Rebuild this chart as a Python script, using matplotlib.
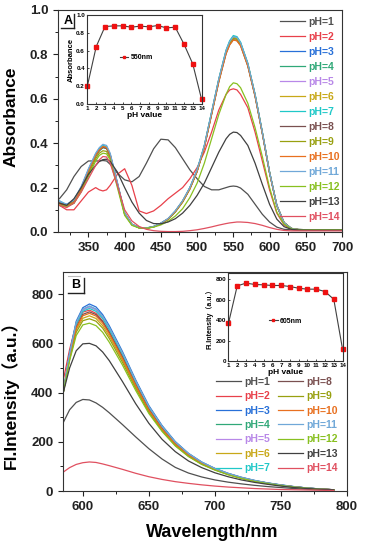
import matplotlib
matplotlib.use('Agg')
import matplotlib.pyplot as plt
from matplotlib.ticker import MultipleLocator
from matplotlib.lines import Line2D

plt.rcParams['font.family'] = ['Liberation Sans', 'Noto Sans CJK SC', 'DejaVu Sans']
plt.rcParams['font.weight'] = 'bold'
plt.rcParams['axes.labelweight'] = 'bold'
plt.rcParams['axes.linewidth'] = 0.8
plt.rcParams['axes.edgecolor'] = '#333333'

# ---------------- data ----------------
labels = ['pH=%d' % i for i in range(1, 15)]
colors = ['#505050', '#e8404a', '#2870d8', '#30a878', '#b888e8', '#c8a818', '#20c8c8',
          '#7a5050', '#98a010', '#e87020', '#70a8d8', '#88c020', '#404040', '#e05060']

wl_abs = [310, 320, 330, 340, 350, 360, 365, 370, 375, 380, 390, 400, 410, 420, 430, 440, 450,
          460, 470, 480, 490, 500, 510, 520, 530, 540, 545, 550, 555, 560, 570, 580, 590, 600,
          610, 620, 630, 640, 660, 680, 700]

abs_ph1 = [0.15, 0.19, 0.25, 0.295, 0.32, 0.32, 0.32, 0.322, 0.32, 0.305, 0.265, 0.235, 0.226, 0.25,
           0.31, 0.375, 0.418, 0.415, 0.38, 0.33, 0.28, 0.24, 0.205, 0.19, 0.19, 0.2, 0.205, 0.207,
           0.205, 0.198, 0.17, 0.125, 0.08, 0.045, 0.022, 0.012, 0.01, 0.008, 0.008, 0.008, 0.008]
abs_ph2 = [0.12, 0.1, 0.1, 0.14, 0.18, 0.2, 0.19, 0.185, 0.19, 0.21, 0.26, 0.285, 0.21, 0.095,
           0.083, 0.095, 0.12, 0.15, 0.175, 0.2, 0.24, 0.29, 0.36, 0.45, 0.55, 0.62, 0.64, 0.645,
           0.64, 0.62, 0.56, 0.45, 0.32, 0.19, 0.085, 0.032, 0.012, 0.008, 0.008, 0.008, 0.008]
abs_ph3 = [0.13, 0.125, 0.14, 0.2, 0.28, 0.35, 0.375, 0.388, 0.383, 0.348, 0.218, 0.084, 0.034, 0.02,
           0.018, 0.024, 0.038, 0.058, 0.092, 0.137, 0.196, 0.275, 0.385, 0.535, 0.685, 0.812, 0.852,
           0.875, 0.872, 0.848, 0.755, 0.617, 0.448, 0.268, 0.12, 0.042, 0.016, 0.011, 0.01, 0.01, 0.01]
abs_ph4 = [0.12, 0.115, 0.13, 0.19, 0.27, 0.34, 0.365, 0.38, 0.376, 0.343, 0.214, 0.082, 0.033, 0.019,
           0.017, 0.023, 0.038, 0.058, 0.093, 0.138, 0.198, 0.278, 0.388, 0.538, 0.688, 0.816, 0.857,
           0.88, 0.877, 0.852, 0.758, 0.62, 0.45, 0.27, 0.12, 0.042, 0.016, 0.011, 0.01, 0.01, 0.01]
abs_ph5 = [0.135, 0.12, 0.14, 0.2, 0.28, 0.35, 0.374, 0.388, 0.384, 0.35, 0.22, 0.085, 0.035, 0.02,
           0.018, 0.024, 0.039, 0.059, 0.094, 0.139, 0.198, 0.277, 0.386, 0.535, 0.684, 0.81, 0.85,
           0.872, 0.868, 0.845, 0.752, 0.614, 0.446, 0.268, 0.12, 0.042, 0.016, 0.011, 0.01, 0.01, 0.01]
abs_ph6 = [0.125, 0.12, 0.135, 0.195, 0.275, 0.345, 0.37, 0.384, 0.38, 0.346, 0.217, 0.083, 0.034, 0.019,
           0.017, 0.024, 0.039, 0.059, 0.094, 0.139, 0.198, 0.277, 0.387, 0.536, 0.686, 0.812, 0.853,
           0.875, 0.871, 0.848, 0.756, 0.617, 0.448, 0.269, 0.12, 0.042, 0.016, 0.011, 0.01, 0.01, 0.01]
abs_ph7 = [0.14, 0.12, 0.14, 0.2, 0.28, 0.35, 0.375, 0.39, 0.385, 0.35, 0.22, 0.085, 0.035, 0.02,
           0.018, 0.025, 0.04, 0.06, 0.095, 0.14, 0.2, 0.28, 0.39, 0.54, 0.69, 0.82, 0.862,
           0.885, 0.88, 0.855, 0.76, 0.62, 0.45, 0.27, 0.12, 0.042, 0.016, 0.011, 0.01, 0.01, 0.01]
abs_ph8 = [0.13, 0.12, 0.135, 0.195, 0.275, 0.345, 0.368, 0.381, 0.377, 0.344, 0.216, 0.083, 0.034, 0.019,
           0.017, 0.024, 0.039, 0.059, 0.093, 0.137, 0.195, 0.273, 0.382, 0.53, 0.678, 0.804, 0.844,
           0.866, 0.862, 0.84, 0.748, 0.612, 0.445, 0.267, 0.119, 0.042, 0.016, 0.011, 0.01, 0.01, 0.01]
abs_ph9 = [0.12, 0.115, 0.13, 0.185, 0.26, 0.33, 0.355, 0.366, 0.363, 0.333, 0.21, 0.08, 0.032, 0.019,
           0.017, 0.023, 0.037, 0.056, 0.09, 0.134, 0.193, 0.272, 0.382, 0.532, 0.682, 0.81, 0.85,
           0.872, 0.868, 0.845, 0.752, 0.615, 0.447, 0.268, 0.12, 0.042, 0.016, 0.011, 0.01, 0.01, 0.01]
abs_ph10 = [0.13, 0.12, 0.135, 0.195, 0.275, 0.345, 0.37, 0.385, 0.381, 0.347, 0.218, 0.084, 0.034, 0.019,
            0.017, 0.024, 0.039, 0.059, 0.093, 0.137, 0.195, 0.273, 0.381, 0.529, 0.677, 0.803, 0.843,
            0.865, 0.861, 0.839, 0.747, 0.611, 0.444, 0.266, 0.119, 0.042, 0.016, 0.011, 0.01, 0.01, 0.01]
abs_ph11 = [0.14, 0.125, 0.145, 0.205, 0.285, 0.355, 0.38, 0.395, 0.39, 0.355, 0.223, 0.086, 0.035, 0.02,
            0.018, 0.025, 0.04, 0.061, 0.096, 0.141, 0.2, 0.28, 0.39, 0.54, 0.69, 0.817, 0.858,
            0.88, 0.876, 0.852, 0.759, 0.62, 0.45, 0.27, 0.121, 0.042, 0.016, 0.011, 0.01, 0.01, 0.01]
abs_ph12 = [0.12, 0.115, 0.13, 0.18, 0.25, 0.32, 0.345, 0.355, 0.352, 0.325, 0.2, 0.075, 0.03, 0.018,
            0.017, 0.022, 0.032, 0.048, 0.072, 0.105, 0.155, 0.22, 0.31, 0.42, 0.53, 0.62, 0.655,
            0.672, 0.668, 0.65, 0.58, 0.47, 0.34, 0.2, 0.09, 0.035, 0.014, 0.01, 0.01, 0.01, 0.01]
abs_ph13 = [0.13, 0.12, 0.15, 0.2, 0.26, 0.3, 0.318, 0.326, 0.328, 0.318, 0.27, 0.2, 0.135, 0.085,
            0.052, 0.038, 0.037, 0.045, 0.06, 0.085, 0.12, 0.165, 0.22, 0.29, 0.36, 0.42, 0.44,
            0.45, 0.448, 0.435, 0.39, 0.31, 0.215, 0.125, 0.058, 0.024, 0.012, 0.009, 0.008, 0.008, 0.008]
abs_ph14 = [0.12, 0.11, 0.13, 0.18, 0.24, 0.3, 0.325, 0.34, 0.338, 0.31, 0.21, 0.1, 0.05, 0.025,
            0.012, 0.006, 0.003, 0.002, 0.002, 0.003, 0.006, 0.01, 0.016, 0.023, 0.031, 0.038, 0.041,
            0.043, 0.045, 0.045, 0.043, 0.038, 0.03, 0.02, 0.012, 0.007, 0.005, 0.005, 0.005, 0.005, 0.005]

wl_fl = [585, 590, 595, 600, 605, 610, 615, 620, 630, 640, 650, 660, 670, 680, 690, 700,
         710, 720, 730, 740, 750, 760, 770, 780, 790]
fl_ph1 = [276, 330, 360, 372, 370, 358, 340, 318, 270, 220, 172, 130, 96, 73, 57, 45, 36, 29, 23, 18, 14, 10, 7, 5, 3]
fl_ph2 = [445, 575, 680, 727, 735, 722, 692, 648, 547, 436, 335, 257, 194, 148, 114, 89, 70, 54, 42, 32, 24, 17, 12, 8, 5]
fl_ph3 = [395, 560, 690, 745, 760, 748, 717, 672, 567, 452, 347, 266, 201, 153, 118, 92, 72, 56, 43, 33, 25, 18, 12, 8, 5]
fl_ph4 = [395, 555, 682, 737, 750, 738, 708, 663, 560, 446, 342, 262, 198, 151, 116, 91, 71, 55, 42, 32, 24, 17, 12, 8, 5]
fl_ph5 = [395, 554, 680, 735, 748, 736, 706, 661, 558, 445, 341, 261, 197, 151, 116, 91, 71, 55, 42, 32, 24, 17, 12, 8, 5]
fl_ph6 = [395, 540, 655, 702, 712, 701, 672, 630, 532, 424, 325, 249, 188, 144, 111, 87, 68, 53, 40, 31, 23, 17, 11, 8, 5]
fl_ph7 = [395, 552, 676, 730, 742, 730, 701, 656, 554, 441, 338, 259, 196, 150, 115, 90, 70, 54, 42, 32, 24, 17, 12, 8, 5]
fl_ph8 = [395, 547, 666, 718, 728, 717, 688, 644, 544, 433, 332, 254, 192, 147, 113, 88, 69, 53, 41, 31, 23, 17, 12, 8, 5]
fl_ph9 = [395, 535, 645, 692, 700, 690, 662, 620, 523, 417, 320, 245, 185, 141, 109, 86, 67, 52, 40, 30, 23, 16, 11, 7, 5]
fl_ph10 = [395, 545, 662, 712, 722, 711, 682, 639, 539, 430, 329, 252, 191, 146, 112, 88, 68, 53, 41, 31, 23, 17, 11, 8, 5]
fl_ph11 = [395, 556, 684, 739, 752, 740, 710, 665, 561, 447, 343, 263, 199, 152, 117, 91, 71, 55, 43, 32, 24, 17, 12, 8, 5]
fl_ph12 = [395, 530, 632, 675, 682, 672, 645, 605, 512, 409, 315, 242, 183, 140, 108, 85, 66, 51, 39, 30, 22, 16, 11, 7, 5]
fl_ph13 = [395, 500, 570, 598, 600, 590, 565, 530, 445, 355, 275, 210, 160, 122, 95, 74, 58, 45, 35, 27, 20, 14, 10, 7, 5]
fl_ph14 = [76, 95, 108, 115, 118, 116, 110, 103, 88, 72, 58, 47, 38, 31, 25, 20, 16, 13, 10, 8, 6, 5, 4, 3, 2]

ph_values = [1, 2, 3, 4, 5, 6, 7, 8, 9, 10, 11, 12, 13, 14]
abs_550 = [0.206, 0.645, 0.87, 0.878, 0.878, 0.863, 0.875, 0.867, 0.882, 0.855, 0.863, 0.672, 0.45, 0.053]
fl_605 = [367, 734, 761, 748, 744, 738, 738, 728, 711, 702, 702, 679, 603, 115]

abs_series = [abs_ph1, abs_ph2, abs_ph3, abs_ph4, abs_ph5, abs_ph6, abs_ph7, abs_ph8, abs_ph9,
              abs_ph10, abs_ph11, abs_ph12, abs_ph13, abs_ph14]
fl_series = [fl_ph1, fl_ph2, fl_ph3, fl_ph4, fl_ph5, fl_ph6, fl_ph7, fl_ph8, fl_ph9,
             fl_ph10, fl_ph11, fl_ph12, fl_ph13, fl_ph14]

W, H = 366, 550
fig = plt.figure(figsize=(W / 100, H / 100), dpi=100)


def px_axes(x0, y0, x1, y1):
    return fig.add_axes([x0 / W, 1 - y1 / H, (x1 - x0) / W, (y1 - y0) / H])


def style_main(ax):
    ax.tick_params(which='major', direction='out', length=3.5, width=0.8, labelsize=9.5, colors='#222222')
    ax.tick_params(which='minor', direction='out', length=2, width=0.7, colors='#222222')
    for s in ax.spines.values():
        s.set_color('#333333')


# ---------------- panel A ----------------
ax1 = px_axes(58, 10, 342, 232)
for y, c, lab in zip(abs_series, colors, labels):
    ax1.plot(wl_abs, y, color=c, lw=0.9, label=lab)
ax1.set_xlim(308, 700)
ax1.set_ylim(0, 1.0)
ax1.xaxis.set_major_locator(MultipleLocator(50))
ax1.xaxis.set_minor_locator(MultipleLocator(25))
ax1.yaxis.set_major_locator(MultipleLocator(0.2))
ax1.yaxis.set_minor_locator(MultipleLocator(0.1))
ax1.yaxis.set_major_formatter(matplotlib.ticker.FormatStrFormatter('%.1f'))
style_main(ax1)
ax1.set_ylabel('Absorbance', fontsize=12.5, fontweight='bold')
ax1.yaxis.set_label_coords((19 - 58) / 284, 0.52)
leg1 = ax1.legend(loc='upper left', bbox_to_anchor=((280 - 58) / 284, (232 - 16.5) / 222),
                  frameon=False, fontsize=7.5, handlelength=2.4, handletextpad=0.3,
                  labelspacing=0.48, borderaxespad=0, borderpad=0)
for t, c in zip(leg1.get_texts(), colors):
    t.set_color(c)

# A mark
fig.text(68 / W, 1 - 21 / H, 'A', fontsize=9, fontweight='bold', ha='center', va='center')
fig.add_artist(Line2D([73.5 / W, 73.5 / W], [1 - 14 / H, 1 - 27.5 / H], color='#222222', lw=1.0))
fig.add_artist(Line2D([61 / W, 73.5 / W], [1 - 27.5 / H, 1 - 27.5 / H], color='#222222', lw=1.0))

# inset A
axA = px_axes(87, 15, 202, 104)
axA.plot(ph_values, abs_550, color='#404040', lw=0.8, marker='s', ms=2.3,
         mfc='#ee1111', mec='#ee1111', label='550nm', clip_on=False)
axA.set_xlim(0.95, 14.05)
axA.set_ylim(0, 1.0)
axA.set_xticks(ph_values)
axA.yaxis.set_major_locator(MultipleLocator(0.2))
axA.yaxis.set_major_formatter(matplotlib.ticker.FormatStrFormatter('%.1f'))
axA.tick_params(direction='in', length=1.5, width=0.5, labelsize=4.5, pad=1.5)
axA.set_xlabel('pH value', fontsize=6, fontweight='bold', labelpad=0.5)
axA.set_ylabel('Absorbance', fontsize=5.5, fontweight='bold', labelpad=1)
axA.legend(loc='center', bbox_to_anchor=(0.43, 0.52), frameon=False, fontsize=5,
           handlelength=1.2, handletextpad=0.3, borderpad=0, markerscale=0.9)

# ---------------- panel B ----------------
ax2 = px_axes(63, 272, 347, 491)
for y, c, lab in zip(fl_series, colors, labels):
    ax2.plot(wl_fl, y, color=c, lw=0.9, label=lab)
ax2.set_xlim(585, 800)
ax2.set_ylim(0, 890)
ax2.xaxis.set_major_locator(MultipleLocator(50))
ax2.xaxis.set_minor_locator(MultipleLocator(25))
ax2.yaxis.set_major_locator(MultipleLocator(200))
ax2.yaxis.set_minor_locator(MultipleLocator(100))
style_main(ax2)
ax2.set_ylabel('Fl.Intensity（a.u.）', fontsize=12.5, fontweight='bold')
ax2.yaxis.set_label_coords((19 - 63) / 284, 0.46)
ax2.set_xlabel('Wavelength/nm', fontsize=13, fontweight='bold')
ax2.xaxis.set_label_coords((212 - 63) / 284, (491 - 524) / 219)
leg2 = ax2.legend(loc='upper left', bbox_to_anchor=((216 - 63) / 284, (491 - 377) / 219),
                  frameon=False, fontsize=7.5, ncol=2, handlelength=2.4, handletextpad=0.3,
                  labelspacing=0.42, columnspacing=0.8, borderaxespad=0, borderpad=0)
for t, c in zip(leg2.get_texts(), colors):
    t.set_color(c)

fig.text(76 / W, 1 - 285.5 / H, 'B', fontsize=9, fontweight='bold', ha='center', va='center')
fig.add_artist(Line2D([83.5 / W, 83.5 / W], [1 - 278 / H, 1 - 292.5 / H], color='#222222', lw=1.0))
fig.add_artist(Line2D([68 / W, 83.5 / W], [1 - 292.5 / H, 1 - 292.5 / H], color='#222222', lw=1.0))
fig.add_artist(Line2D([68 / W, 80 / W], [1 - 275.5 / H, 1 - 275.5 / H], color='#bbbbbb', lw=0.8))

# inset B
axB = px_axes(228, 273, 343, 361)
axB.plot(ph_values, fl_605, color='#404040', lw=0.8, marker='s', ms=2.3,
         mfc='#ee1111', mec='#ee1111', label='605nm', clip_on=False)
axB.set_xlim(0.95, 14.05)
axB.set_ylim(0, 860)
axB.set_xticks(ph_values)
axB.yaxis.set_major_locator(MultipleLocator(200))
axB.tick_params(direction='in', length=1.5, width=0.5, labelsize=4.5, pad=1.5)
axB.set_xlabel('pH value', fontsize=6, fontweight='bold', labelpad=0.5)
axB.set_ylabel('Fl.Intensity（a.u.）', fontsize=5, fontweight='bold', labelpad=1)
axB.legend(loc='center', bbox_to_anchor=(0.5, 0.45), frameon=False, fontsize=5,
           handlelength=1.2, handletextpad=0.3, borderpad=0, markerscale=0.9)

fig.savefig('out.png', dpi=100)
